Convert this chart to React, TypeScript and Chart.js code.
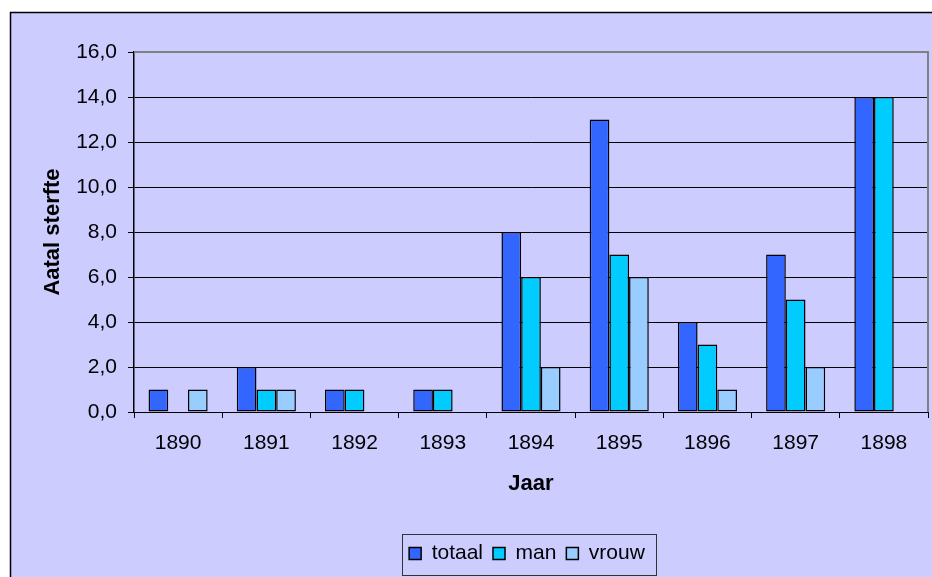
import { useEffect, useRef } from 'react';
import { Chart, registerables } from 'chart.js';

Chart.register(...registerables);

const categories = ['1890', '1891', '1892', '1893', '1894', '1895', '1896', '1897', '1898'];
const totaal = [1, 2, 1, 1, 8, 13, 4, 7, 14];
const man = [0, 1, 1, 1, 6, 7, 3, 5, 14];
const vrouw = [1, 1, 0, 0, 2, 6, 1, 2, 0];
const seriesNames = ['totaal', 'man', 'vrouw'];
const seriesColors = ['#3366FF', '#00CCFF', '#99CCFF'];
const yTickValues = [0, 2, 4, 6, 8, 10, 12, 14, 16];
const xTitle = 'Jaar';
const yTitle = 'Aatal sterfte';

const FONT = "'Liberation Sans', Arial, sans-serif";

const decorPlugin = {
  id: 'decor',
  afterLayout(chart: any) {
    if (chart.legend) {
      chart.legend.left -= 4;
      chart.legend.right -= 4;
    }
  },
  beforeDraw(chart: any) {
    const { ctx, width, height } = chart;
    ctx.save();
    ctx.fillStyle = '#ffffff';
    ctx.fillRect(0, 0, width, height);
    ctx.fillStyle = '#CCCCFF';
    ctx.fillRect(10, 12, width - 10, height - 12);
    ctx.strokeStyle = '#000';
    ctx.lineWidth = 1.5;
    ctx.beginPath();
    ctx.moveTo(10.5, height);
    ctx.lineTo(10.5, 12.5);
    ctx.lineTo(width, 12.5);
    ctx.stroke();
    ctx.restore();
  },
  afterDraw(chart: any) {
    const { ctx, chartArea } = chart;
    ctx.save();
    ctx.strokeStyle = '#808080';
    ctx.lineWidth = 2;
    ctx.beginPath();
    ctx.moveTo(chartArea.left, chartArea.top);
    ctx.lineTo(chartArea.right, chartArea.top);
    ctx.lineTo(chartArea.right, chartArea.bottom);
    ctx.stroke();
    const hb = chart.legend && chart.legend.legendHitBoxes;
    if (hb && hb.length) {
      const l = Math.min(...hb.map((h: any) => h.left));
      const r = Math.max(...hb.map((h: any) => h.left + h.width));
      const t = Math.min(...hb.map((h: any) => h.top));
      const b = Math.max(...hb.map((h: any) => h.top + h.height));
      const cy = (t + b) / 2;
      ctx.strokeStyle = '#333';
      ctx.lineWidth = 1;
      ctx.strokeRect(Math.round(l - 7) + 0.5, Math.round(cy - 20) + 0.5, Math.round(r - l + 18), 41);
    }
    ctx.restore();
  },
};

export default function App() {
  const ref = useRef<HTMLCanvasElement | null>(null);
  useEffect(() => {
    if (!ref.current) return;
    const datasets = [totaal, man, vrouw].map((d, i) => ({
      label: seriesNames[i],
      data: d,
      backgroundColor: seriesColors[i],
      borderColor: '#000',
      borderWidth: 1.5,
      borderSkipped: false,
      categoryPercentage: 0.67,
      barPercentage: 1,
    }));
    const chart = new Chart(ref.current, {
      type: 'bar',
      data: { labels: categories, datasets },
      plugins: [decorPlugin],
      options: {
        animation: false,
        responsive: false,
        layout: { padding: { left: 10, right: 4, top: 52, bottom: 3 } },
        plugins: {
          tooltip: { enabled: false },
          legend: {
            position: 'bottom',
            fullSize: false,
            labels: {
              boxWidth: 12,
              boxHeight: 12,
              padding: 10,
              color: '#000',
              font: { family: FONT, size: 21 },
            },
          },
        },
        scales: {
          x: {
            afterFit: (s: any) => { s.height = 121; },
            grid: { offset: true, drawOnChartArea: false, tickLength: 6, color: '#000' },
            border: { color: '#000', width: 1 },
            ticks: { color: '#000', padding: 13, font: { family: FONT, size: 21 }, maxRotation: 0 },
            title: { display: true, text: xTitle, color: '#000', font: { family: FONT, size: 22, weight: 'bold' }, padding: { top: 0, bottom: 36 } },
          },
          y: {
            min: 0,
            max: 16,
            afterFit: (s: any) => { s.width = 124; },
            afterBuildTicks: (s: any) => { s.ticks = yTickValues.map((v) => ({ value: v })); },
            grid: { color: '#000', tickLength: 6, lineWidth: 1 },
            border: { color: '#000', width: 1.5 },
            ticks: {
              color: '#000',
              padding: 11,
              font: { family: FONT, size: 21 },
              callback: (v: any) => Number(v).toFixed(1).replace('.', ','),
            },
            title: { display: true, text: yTitle, color: '#000', font: { family: FONT, size: 22, weight: 'bold' }, padding: { top: 30, bottom: 0 } },
          },
        },
      } as any,
    });
    return () => chart.destroy();
  }, []);
  return (
    <div style={{ position: 'fixed', left: 0, top: 0, width: 932, height: 577 }}>
      <canvas ref={ref} width={932} height={577} style={{ display: 'block', width: 932, height: 577 }} />
    </div>
  );
}
